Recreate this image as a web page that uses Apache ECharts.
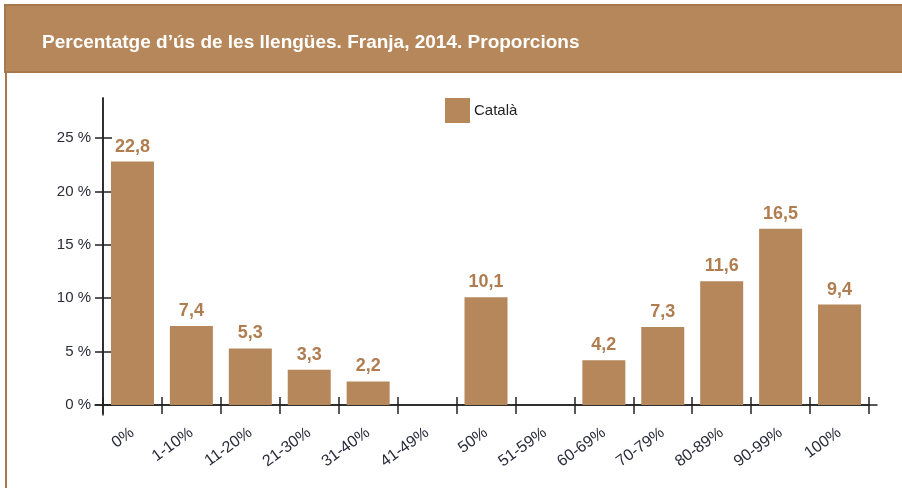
<!DOCTYPE html>
<html><head><meta charset="utf-8">
<script src="https://cdn.jsdelivr.net/npm/echarts@6/dist/echarts.min.js"></script>
<style>html,body{margin:0;padding:0;background:#fff}#c{width:902px;height:488px}</style>
</head><body><div id="c"></div>
<script>
const titleText = "Percentatge d’ús de les llengües. Franja, 2014. Proporcions";
const categories = ["0%","1-10%","11-20%","21-30%","31-40%","41-49%","50%","51-59%","60-69%","70-79%","80-89%","90-99%","100%"];
const seriesName = "Català";
const values = [22.8, 7.4, 5.3, 3.3, 2.2, null, 10.1, null, 4.2, 7.3, 11.6, 16.5, 9.4];
const yTicks = [0, 5, 10, 15, 20, 25];

const BROWN = '#b5875b';
const AX = '#222';
const FONT = 'Liberation Sans, Arial, sans-serif';
const chart = echarts.init(document.getElementById('c'), null, {renderer:'canvas'});
chart.setOption({
  animation:false,
  backgroundColor:'#fff',
  graphic:[
    {type:'rect', shape:{x:5,y:5,width:910,height:67}, style:{fill:BROWN, stroke:'#a8774a', lineWidth:2}, z:-1},
    {type:'line', shape:{x1:6,y1:72,x2:6,y2:490}, style:{stroke:'#a8774a', lineWidth:2}, z:-1}
  ],
  title:{text:titleText, left:42, top:33, padding:0, textStyle:{color:'#fff', fontFamily:FONT, fontWeight:'bold', fontSize:19}},
  legend:{data:[seriesName], left:445, top:98, padding:0, itemWidth:25, itemHeight:25, icon:'rect', itemGap:5,
    textStyle:{fontFamily:FONT, fontSize:15, color:'#222', padding:[0,0,0,-1]}},
  grid:[
    {left:103, right:33, top:98, bottom:83},
    {left:95, right:25, top:98, bottom:73}
  ],
  xAxis:[
    {type:'category', data:categories, gridIndex:0, position:'bottom',
     axisLine:{show:true, lineStyle:{color:AX, width:1.5}},
     axisTick:{show:true, length:9, inside:false, lineStyle:{color:AX, width:1.5}},
     axisLabel:{rotate:36, margin:26, fontFamily:FONT, fontSize:16, color:'#2a2a3a'}},
    {type:'category', data:categories, gridIndex:0, position:'bottom',
     axisLine:{show:false}, axisLabel:{show:false},
     axisTick:{show:true, length:8, inside:true, lineStyle:{color:AX, width:1.5}}},
    {type:'value', gridIndex:1, min:-8, max:774, splitLine:{show:false}, axisTick:{show:false}, axisLabel:{show:false},
     axisLine:{show:true, onZero:true, lineStyle:{color:AX, width:1.5}}}
  ],
  yAxis:[
    {type:'value', gridIndex:0, min:0, max:28.75, position:'left',
     splitLine:{show:false},
     axisLine:{show:true, lineStyle:{color:AX, width:1.5}},
     axisTick:{show:true, length:8, customValues:yTicks, lineStyle:{color:AX, width:1.5}},
     axisLabel:{customValues:yTicks, formatter:v=>v+' %', margin:12, fontFamily:FONT, fontSize:15, color:'#2a2a3a'}},
    {type:'value', gridIndex:0, min:0, max:28.75, position:'left', offset:0,
     splitLine:{show:false}, axisLine:{show:false}, axisLabel:{show:false},
     axisTick:{show:true, inside:true, length:9, customValues:yTicks, lineStyle:{color:AX, width:1.5}}},
    {type:'value', gridIndex:1, min:-0.94, max:28.75, splitLine:{show:false}, axisTick:{show:false}, axisLabel:{show:false},
     axisLine:{show:true, onZero:true, lineStyle:{color:AX, width:1.5}}}
  ],
  series:[
    {type:'bar', name:seriesName, data:values, xAxisIndex:0, yAxisIndex:0, barWidth:43,
     itemStyle:{color:BROWN},
     label:{show:true, position:'top', distance:6, formatter:p=>p.value==null?'':String(p.value).replace('.',','),
       fontFamily:FONT, fontWeight:'bold', fontSize:18, color:'#b07d50'}}
  ]
});
</script></body></html>
